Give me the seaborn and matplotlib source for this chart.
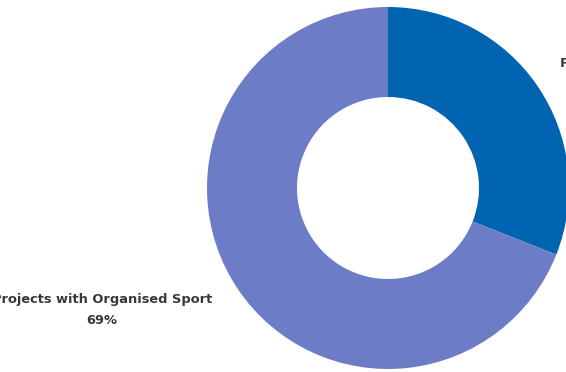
import matplotlib
matplotlib.use("Agg")
import matplotlib.pyplot as plt
import seaborn as sns

categories = ["Projects without Organised Sport", "Projects with Organised Sport"]
shares = [31, 69]
labels = ["31%", "69%"]
colors = ["#0064B0", "#6D7CC7"]

sns.set_theme(style="white")
plt.rcParams['font.family'] = ['DejaVu Sans']

fig = plt.figure(figsize=(5.66, 3.72), dpi=100)
ax = fig.add_axes([0, 0, 1, 1])
ax.pie(shares, colors=colors, startangle=90, counterclock=False,
       radius=181, center=(0, 0),
       wedgeprops=dict(width=90, linewidth=0))
ax.set_xlim(-388, 178)
ax.set_ylim(-184, 188)
ax.set_aspect('equal')
ax.axis('off')

ax.text(-286, -122, f"{categories[1]}\n{labels[1]}", ha='center', va='center',
        fontsize=9.4, fontweight='bold', color='#383838', linespacing=1.7,
        multialignment='center', clip_on=False)
ax.text(172, 115, f"{categories[0]}\n{labels[0]}", ha='left', va='center',
        fontsize=9.4, fontweight='bold', color='#383838', linespacing=1.7,
        multialignment='center', clip_on=False)

fig.savefig("out.png", dpi=100)
